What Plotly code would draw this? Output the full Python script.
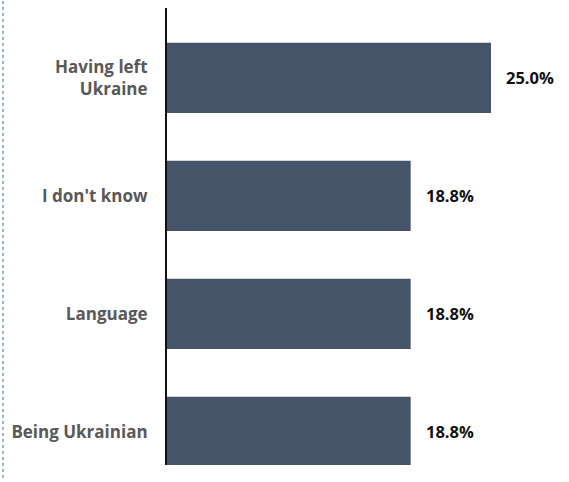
import plotly.graph_objects as go

categories = ["Having left<br>Ukraine", "I don't know", "Language", "Being Ukrainian"]
values = [25.0, 18.8, 18.8, 18.8]
value_labels = ["25.0%", "18.8%", "18.8%", "18.8%"]

bar_color = "#465469"
font_family = "Open Sans, Noto Sans, sans-serif"

fig = go.Figure()
fig.add_trace(go.Bar(
    y=categories, x=values, orientation="h",
    marker=dict(color=bar_color, line=dict(width=0)),
    width=0.595, hoverinfo="skip",
))

for c, v, t in zip(categories, values, value_labels):
    fig.add_annotation(x=v, y=c, text="<b>%s</b>" % t, showarrow=False,
                       xanchor="left", xshift=13,
                       font=dict(family=font_family, size=16.5, color="#111111"))

L, R, T, B = 167, 0, 8, 17
W, H = 569, 482
plot_w = W - L - R

fig.add_shape(type="line", xref="paper", yref="paper",
              x0=-(L - 3) / plot_w, x1=-(L - 3) / plot_w,
              y0=-(B - 4) / (H - T - B), y1=1 + T / (H - T - B),
              line=dict(color="#9db3cc", width=2, dash="dot"))

fig.update_layout(
    width=W, height=H,
    margin=dict(l=L, r=R, t=T, b=B, pad=0, autoexpand=False),
    paper_bgcolor="white", plot_bgcolor="white",
    showlegend=False,
    font=dict(family=font_family),
    xaxis=dict(range=[0, plot_w / 12.96], visible=False, fixedrange=True),
    yaxis=dict(
        autorange=False, range=[3.28, -0.593],
        showline=True, linecolor="#111111", linewidth=2,
        showgrid=False, zeroline=False, ticks="",
        ticklabelstandoff=14, automargin=False,
        tickfont=dict(family=font_family, size=17, color="#595959", weight="bold"),
        fixedrange=True,
    ),
)

fig.write_html("out.html", config={"displayModeBar": False},
               post_script="document.body.style.margin='0';")
